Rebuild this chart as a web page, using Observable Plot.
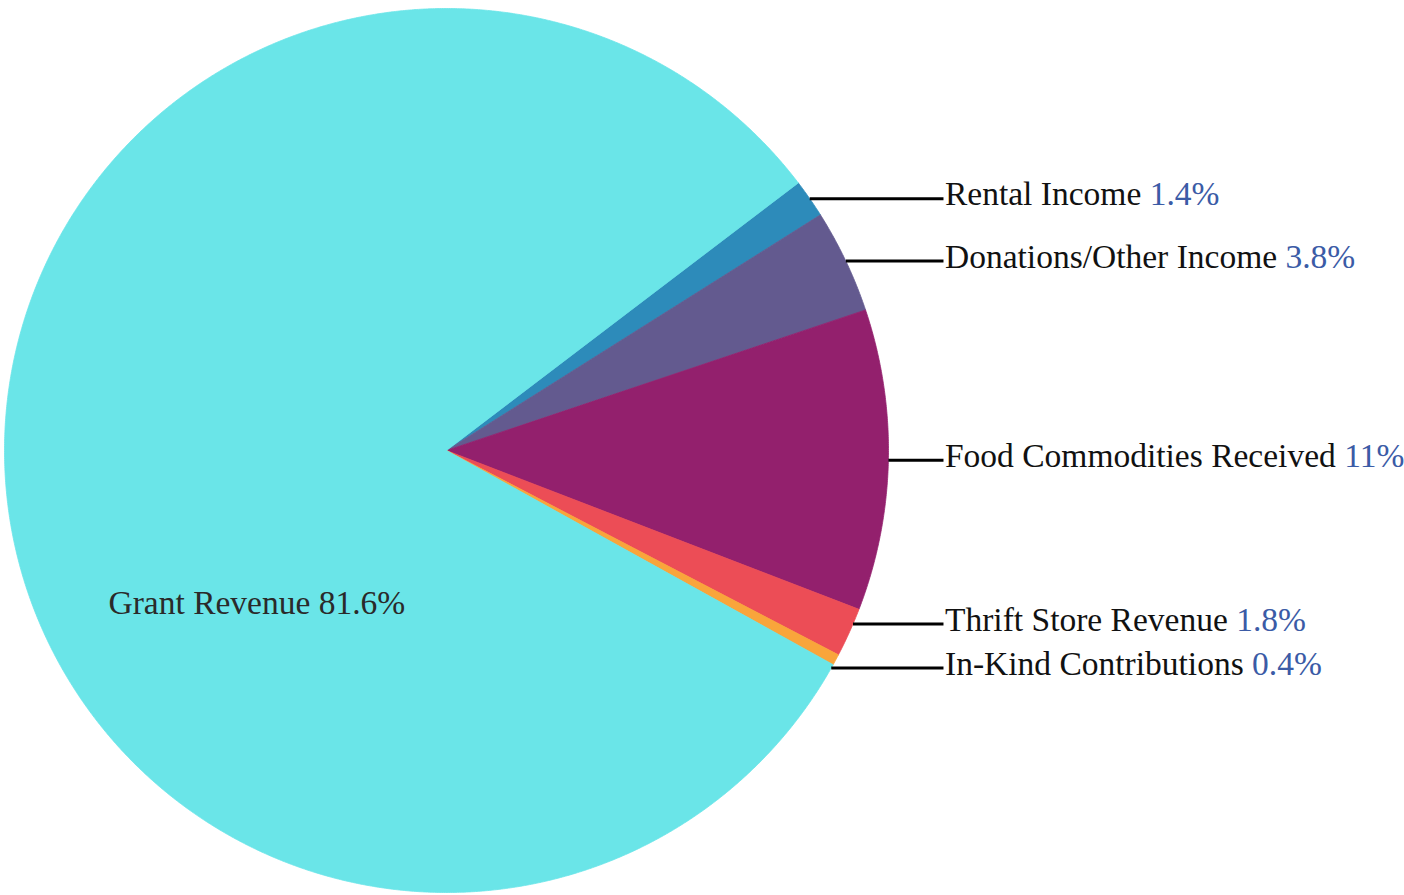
<!DOCTYPE html>
<html><head><meta charset="utf-8">
<script src="https://cdn.jsdelivr.net/npm/d3@7"></script>
<script src="https://cdn.jsdelivr.net/npm/@observablehq/plot@0.6"></script>
<style>html,body{margin:0;padding:0;background:#fff;} #chart svg{display:block}</style>
</head><body><div id="chart"></div>
<script>
// ---- data ----
const categories = ["Rental Income","Donations/Other Income","Food Commodities Received","Thrift Store Revenue","In-Kind Contributions","Grant Revenue"];
const shares = [1.4, 3.8, 11, 1.8, 0.4, 81.6];
const shareLabels = ["1.4%","3.8%","11%","1.8%","0.4%","81.6%"];
const sliceColors = ["#2d8bba","#635a8f","#93206d","#ec4d56","#f9a53b","#6ae5e8"];

// ---- layout ----
const FONT = "Liberation Serif, Times New Roman, serif";
const FS = 33.5;
const startAngle = 52.74 * Math.PI / 180; // clockwise from top
const labelX = 1.1244;        // where leader lines end (radius units)
const gap = 44 / 442;          // minimum vertical spacing between outside labels
const total = d3.sum(shares);

const sliceData = [];
const slices = [];
let a = startAngle;
categories.forEach((cat, i) => {
  const span = shares[i] / total * 2 * Math.PI;
  const a0 = a, a1 = a + span;
  slices.push({cat, a0, a1, mid: (a0 + a1) / 2, i});
  sliceData.push({key: cat, x: 0, y: 0});
  const n = Math.max(2, Math.ceil(span / 0.004));
  for (let k = 0; k <= n; k++) {
    const t = a0 + span * k / n;
    sliceData.push({key: cat, x: Math.sin(t), y: Math.cos(t)});
  }
  sliceData.push({key: cat, x: 0, y: 0});
  a = a1;
});

// outside labels (all but the big slice)
const outside = slices.filter(s => s.cat !== "Grant Revenue").map(s => ({
  cat: s.cat, y: Math.cos(s.mid), label: s.cat + " " + shareLabels[s.i], pct: shareLabels[s.i]
}));
outside.sort((p, q) => q.y - p.y);
for (let it = 0; it < 200; it++) {
  for (let k = 1; k < outside.length; k++) {
    const d = outside[k - 1].y - outside[k].y;
    if (d < gap) {
      const m = (gap - d) / 2;
      outside[k - 1].y += m; outside[k].y -= m;
    }
  }
}
outside.forEach(o => { o.x1 = Math.sqrt(Math.max(0, 1 - o.y * o.y)); o.x2 = labelX; });

const grant = slices.find(s => s.cat === "Grant Revenue");
const grantLabel = [{x: -0.429, y: -0.345, label: grant.cat + " " + shareLabels[grant.i]}];

const plot = Plot.plot({
  width: 1404, height: 895,
  marginLeft: 4, marginRight: 516, marginTop: 8, marginBottom: 3,
  x: {domain: [-1, 1], axis: null},
  y: {domain: [-1, 1], axis: null},
  color: {domain: categories, range: sliceColors},
  style: {background: "white", overflow: "visible"},
  marks: [
    Plot.line(sliceData, {x: "x", y: "y", z: "key", fill: "key", stroke: "key", strokeWidth: 0.8}),
    Plot.link(outside, {x1: "x1", y1: "y", x2: "x2", y2: "y", stroke: "#000", strokeWidth: 3}),
    Plot.text(outside, {x: d => d.x2 + 1.5 / 442, y: "y", text: "label", textAnchor: "start", dy: -4,
      fontFamily: FONT, fontSize: FS, fill: "#111"}),
    Plot.text(grantLabel, {x: "x", y: "y", text: "label", textAnchor: "middle",
      fontFamily: FONT, fontSize: FS, fill: "#2a2a2a"})
  ]
});

// colour the percentage part of the outside labels
const outsideLabels = new Map(outside.map(o => [o.label, o.pct]));
plot.querySelectorAll("text").forEach(t => {
  const s = t.textContent;
  if (!outsideLabels.has(s)) return;
  const pct = outsideLabels.get(s);
  t.textContent = s.slice(0, s.length - pct.length);
  const ts = document.createElementNS("http://www.w3.org/2000/svg", "tspan");
  ts.setAttribute("fill", "#3b5ba6");
  ts.textContent = pct;
  t.appendChild(ts);
});

document.getElementById("chart").appendChild(plot);
</script>
</body></html>
